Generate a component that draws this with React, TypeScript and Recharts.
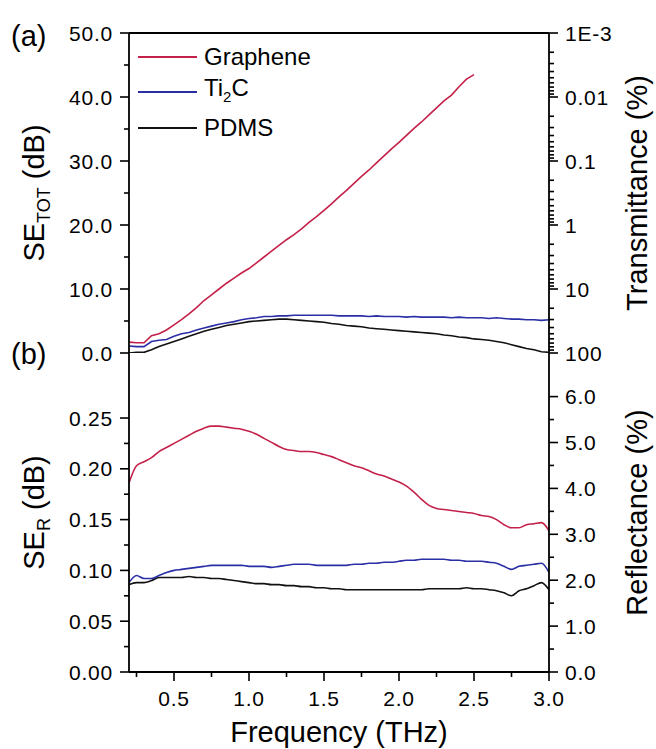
import { Line, LineChart, ReferenceLine, XAxis, YAxis } from "recharts";

const FONT = "'Liberation Sans', Arial, Helvetica, sans-serif";
const RED = "#c4214a";
const BLUE = "#2b2fa6";
const BLACK = "#111111";

// frequency grid (THz)
const freq = [
  0.2, 0.25, 0.3, 0.35, 0.4, 0.45, 0.5, 0.55, 0.6, 0.65, 0.7, 0.75, 0.8, 0.85, 0.9, 0.95, 1.0, 1.05, 1.1,
  1.15, 1.2, 1.25, 1.3, 1.35, 1.4, 1.45, 1.5, 1.55, 1.6, 1.65, 1.7, 1.75, 1.8, 1.85, 1.9, 1.95, 2.0, 2.05,
  2.1, 2.15, 2.2, 2.25, 2.3, 2.35, 2.4, 2.45, 2.5, 2.55, 2.6, 2.65, 2.7, 2.75, 2.8, 2.85, 2.9, 2.95, 3.0,
];

// (a) SE_TOT in dB — graphene stops at 2.5 THz
const grapheneTot = [
  1.7, 1.6, 1.6, 2.7, 3.0, 3.6, 4.4, 5.2, 6.1, 7.1, 8.2, 9.1, 10.0, 10.9, 11.7, 12.5, 13.2, 14.1, 15.0, 15.9,
  16.8, 17.7, 18.5, 19.4, 20.4, 21.3, 22.3, 23.3, 24.4, 25.4, 26.5, 27.6, 28.6, 29.7, 30.8, 31.9, 32.9, 34.0,
  35.1, 36.1, 37.2, 38.3, 39.4, 40.3, 41.6, 42.8, 43.5,
];
const ti2cTot = [
  1.1, 1.0, 1.0, 1.8, 2.0, 2.1, 2.6, 3.0, 3.2, 3.6, 3.9, 4.2, 4.5, 4.7, 4.9, 5.2, 5.4, 5.5, 5.7, 5.7, 5.8, 5.8,
  5.9, 5.9, 5.9, 5.9, 5.9, 5.9, 5.8, 5.8, 5.8, 5.8, 5.7, 5.8, 5.7, 5.7, 5.7, 5.6, 5.7, 5.6, 5.6, 5.6, 5.6, 5.5,
  5.6, 5.5, 5.5, 5.5, 5.4, 5.5, 5.4, 5.3, 5.3, 5.2, 5.2, 5.1, 5.2,
];
const pdmsTot = [
  0.0, 0.1, 0.1, 0.5, 1.0, 1.4, 1.8, 2.2, 2.6, 3.0, 3.4, 3.7, 4.0, 4.3, 4.5, 4.7, 4.9, 5.0, 5.1, 5.2, 5.3, 5.3,
  5.2, 5.1, 5.0, 4.9, 4.8, 4.6, 4.5, 4.3, 4.2, 4.1, 3.9, 3.8, 3.7, 3.6, 3.5, 3.4, 3.3, 3.2, 3.1, 3.0, 2.8, 2.7,
  2.5, 2.4, 2.2, 2.1, 2.0, 1.8, 1.6, 1.3, 1.0, 0.7, 0.5, 0.2, 0.1,
];

// (b) SE_R in dB
const grapheneR = [
  0.186, 0.203, 0.207, 0.211, 0.217, 0.221, 0.225, 0.229, 0.233, 0.237, 0.24, 0.242, 0.242, 0.241, 0.24,
  0.239, 0.237, 0.234, 0.23, 0.226, 0.222, 0.219, 0.218, 0.217, 0.217, 0.216, 0.214, 0.212, 0.209, 0.206,
  0.203, 0.201, 0.198, 0.195, 0.193, 0.19, 0.187, 0.183, 0.177, 0.17, 0.164, 0.161, 0.16, 0.159, 0.158,
  0.157, 0.156, 0.154, 0.153, 0.15, 0.145, 0.142, 0.142, 0.145, 0.146, 0.147, 0.139,
];
const ti2cR = [
  0.088, 0.095, 0.092, 0.092, 0.095, 0.098, 0.1, 0.101, 0.102, 0.103, 0.104, 0.105, 0.105, 0.105, 0.105,
  0.105, 0.104, 0.104, 0.104, 0.103, 0.104, 0.105, 0.106, 0.106, 0.106, 0.105, 0.105, 0.105, 0.105, 0.105,
  0.106, 0.106, 0.107, 0.107, 0.108, 0.108, 0.109, 0.11, 0.11, 0.111, 0.111, 0.111, 0.111, 0.11, 0.11,
  0.109, 0.109, 0.109, 0.108, 0.107, 0.104, 0.101, 0.104, 0.105, 0.106, 0.107, 0.098,
];
const pdmsR = [
  0.086, 0.088, 0.088, 0.09, 0.093, 0.093, 0.093, 0.093, 0.094, 0.093, 0.093, 0.092, 0.092, 0.091, 0.09,
  0.089, 0.088, 0.087, 0.087, 0.086, 0.086, 0.085, 0.085, 0.084, 0.084, 0.083, 0.083, 0.082, 0.082, 0.081,
  0.081, 0.081, 0.081, 0.081, 0.081, 0.081, 0.081, 0.081, 0.081, 0.081, 0.082, 0.082, 0.082, 0.082, 0.082,
  0.083, 0.082, 0.082, 0.081, 0.08, 0.078, 0.075, 0.08, 0.082, 0.085, 0.088, 0.081,
];

// ticks
const freqMajor = [0.5, 1.0, 1.5, 2.0, 2.5, 3.0];
const freqMinor = [0.25, 0.75, 1.25, 1.75, 2.25, 2.75];
const seTotMajor = [0, 10, 20, 30, 40, 50];
const seTotMinor = [5, 15, 25, 35, 45];
const transLabels = ["100", "10", "1", "0.1", "0.01", "1E-3"];
const transDecades = [10, 1, 0.1, 0.01, 0.001];
const transMultipliers = [2, 3, 4, 5, 6, 7, 8, 9];
const seRMajor = [0, 0.05, 0.1, 0.15, 0.2, 0.25];
const seRMinor = [0.025, 0.075, 0.125, 0.175, 0.225];
const reflMajor = [0, 1, 2, 3, 4, 5, 6];
const reflMinor = [0.5, 1.5, 2.5, 3.5, 4.5, 5.5];

// transmittance (%) -> SE (dB)
const toSE = (t: number) => 10 * Math.log10(100 / t);
const transMinorSE = transDecades.flatMap((d) => transMultipliers.map((m) => toSE(m * d)));

const topData = freq.map((f, i) => ({
  f,
  graphene: i < grapheneTot.length ? grapheneTot[i] : null,
  ti2c: ti2cTot[i],
  pdms: pdmsTot[i],
}));
const bottomData = freq.map((f, i) => ({ f, graphene: grapheneR[i], ti2c: ti2cR[i], pdms: pdmsR[i] }));

const near = (a: number, b: number) => Math.abs(a - b) < 1e-6;
const majorLabel = (majors: number[], labels: string[]) => (v: number) => {
  const idx = majors.findIndex((m) => near(m, v));
  return idx >= 0 ? labels[idx] : null;
};

const tickText = { fontFamily: FONT, fontSize: 21, letterSpacing: 0.8, fill: "#000" };

function makeYTick(side: "left" | "right", labelFor: (v: number) => string | null) {
  return function YTick(props: any) {
    const { x, y, payload } = props;
    const label = labelFor(payload.value);
    const dir = side === "left" ? -1 : 1;
    return (
      <g>
        <line x1={x} x2={x + dir * (label !== null ? 9 : 5)} y1={y} y2={y} stroke="#000" strokeWidth={1.6} />
        {label !== null && (
          <text x={x + dir * 16} y={y} dy="0.36em" textAnchor={side === "left" ? "end" : "start"} {...tickText}>
            {label}
          </text>
        )}
      </g>
    );
  };
}

function XTick(props: any) {
  const { x, y, payload } = props;
  const label = majorLabel(freqMajor, freqMajor.map((v) => v.toFixed(1)))(payload.value);
  return (
    <g>
      <line x1={x} x2={x} y1={y} y2={y + (label !== null ? 9 : 5)} stroke="#000" strokeWidth={1.6} />
      {label !== null && (
        <text x={x} y={y + 26} dy="0.36em" textAnchor="middle" {...tickText}>
          {label}
        </text>
      )}
    </g>
  );
}

function VTitle({ x, cy, main, sub, tail }: { x: number; cy: number; main: string; sub?: string; tail: string }) {
  return (
    <text
      x={x}
      y={cy}
      transform={`rotate(-90, ${x}, ${cy})`}
      textAnchor="middle"
      fontFamily={FONT}
      fontSize={29}
      fill="#000"
    >
      {main}
      {sub && (
        <tspan fontSize={18} dy={6}>
          {sub}
        </tspan>
      )}
      <tspan dy={sub ? -6 : 0}>{tail}</tspan>
    </text>
  );
}

const axisLine = { stroke: "#000", strokeWidth: 1.8 };
const W = 656;
const H = 749;

const legendItems = [
  { color: RED, name: "Graphene" },
  { color: BLUE, name: "Ti2C" },
  { color: BLACK, name: "PDMS" },
];

export default function App() {
  return (
    <div style={{ position: "absolute", left: 0, top: 0, width: W, height: H, background: "#fff" }}>
      {/* (a) total shielding / transmittance */}
      <div style={{ position: "absolute", left: 0, top: 0 }}>
        <LineChart width={W} height={H} data={topData} margin={{ top: 33, right: 0, bottom: 396, left: 0 }}>
          <XAxis
            dataKey="f"
            type="number"
            domain={[0.2, 3.0]}
            allowDataOverflow
            height={0}
            tick={false}
            tickLine={false}
            axisLine={axisLine}
          />
          <YAxis
            yAxisId="l"
            type="number"
            domain={[0, 50]}
            allowDataOverflow
            width={129}
            ticks={[...seTotMajor, ...seTotMinor]}
            interval={0}
            tickSize={0}
            tickMargin={0}
            tickLine={false}
            axisLine={axisLine}
            tick={makeYTick("left", majorLabel(seTotMajor, seTotMajor.map((v) => v.toFixed(1))))}
            label={(p: any) => (
              <VTitle x={44} cy={p.viewBox.y + p.viewBox.height / 2} main="SE" sub="TOT" tail=" (dB)" />
            )}
          />
          <YAxis
            yAxisId="r"
            orientation="right"
            type="number"
            domain={[0, 50]}
            allowDataOverflow
            width={107}
            ticks={[...seTotMajor, ...transMinorSE]}
            interval={0}
            tickSize={0}
            tickMargin={0}
            tickLine={false}
            axisLine={axisLine}
            tick={makeYTick("right", majorLabel(seTotMajor, transLabels))}
            label={(p: any) => (
              <VTitle x={647} cy={p.viewBox.y + p.viewBox.height / 2} main="Transmittance (%)" tail="" />
            )}
          />
          <ReferenceLine yAxisId="l" y={50} stroke="#000" strokeWidth={1.8} />
          <Line yAxisId="l" type="linear" dataKey="pdms" stroke={BLACK} strokeWidth={1.6} dot={false} isAnimationActive={false} />
          <Line yAxisId="l" type="linear" dataKey="ti2c" stroke={BLUE} strokeWidth={1.6} dot={false} isAnimationActive={false} />
          <Line yAxisId="l" type="linear" dataKey="graphene" stroke={RED} strokeWidth={1.6} dot={false} isAnimationActive={false} />
        </LineChart>
      </div>

      {/* (b) reflection */}
      <div style={{ position: "absolute", left: 0, top: 0 }}>
        <LineChart width={W} height={H} data={bottomData} margin={{ top: 353, right: 0, bottom: 0, left: 0 }}>
          <XAxis
            dataKey="f"
            type="number"
            domain={[0.2, 3.0]}
            allowDataOverflow
            height={77}
            ticks={[...freqMajor, ...freqMinor]}
            interval={0}
            tickSize={0}
            tickMargin={0}
            tickLine={false}
            axisLine={axisLine}
            tick={XTick}
            label={(p: any) => (
              <text
                x={p.viewBox.x + p.viewBox.width / 2}
                y={742}
                textAnchor="middle"
                fontFamily={FONT}
                fontSize={29}
                fill="#000"
              >
                Frequency (THz)
              </text>
            )}
          />
          <YAxis
            yAxisId="l"
            type="number"
            domain={[0, 0.314]}
            allowDataOverflow
            width={129}
            ticks={[...seRMajor, ...seRMinor]}
            interval={0}
            tickSize={0}
            tickMargin={0}
            tickLine={false}
            axisLine={axisLine}
            tick={makeYTick("left", majorLabel(seRMajor, seRMajor.map((v) => v.toFixed(2))))}
            label={(p: any) => (
              <VTitle x={44} cy={p.viewBox.y + p.viewBox.height / 2} main="SE" sub="R" tail=" (dB)" />
            )}
          />
          <YAxis
            yAxisId="r"
            orientation="right"
            type="number"
            domain={[0, 6.95]}
            allowDataOverflow
            width={107}
            ticks={[...reflMajor, ...reflMinor]}
            interval={0}
            tickSize={0}
            tickMargin={0}
            tickLine={false}
            axisLine={axisLine}
            tick={makeYTick("right", majorLabel(reflMajor, reflMajor.map((v) => v.toFixed(1))))}
            label={(p: any) => (
              <VTitle x={647} cy={p.viewBox.y + p.viewBox.height / 2} main="Reflectance (%)" tail="" />
            )}
          />
          <Line yAxisId="l" type="monotone" dataKey="pdms" stroke={BLACK} strokeWidth={1.6} dot={false} isAnimationActive={false} />
          <Line yAxisId="l" type="monotone" dataKey="ti2c" stroke={BLUE} strokeWidth={1.6} dot={false} isAnimationActive={false} />
          <Line yAxisId="l" type="monotone" dataKey="graphene" stroke={RED} strokeWidth={1.6} dot={false} isAnimationActive={false} />
        </LineChart>
      </div>

      {/* panel letters */}
      <svg width={W} height={H} style={{ position: "absolute", left: 0, top: 0, pointerEvents: "none" }}>
        <text x={11} y={46} fontFamily={FONT} fontSize={29} fill="#000">
          (a)
        </text>
        <text x={11} y={364} fontFamily={FONT} fontSize={29} fill="#000">
          (b)
        </text>
      </svg>

      {/* legend */}
      <div style={{ position: "absolute", left: 138, top: 39, fontFamily: FONT, fontSize: 24, color: "#000" }}>
        {legendItems.map((item) => (
          <div key={item.name} style={{ display: "flex", alignItems: "center", height: 35.5 }}>
            <svg width={59} height={4} style={{ display: "block" }}>
              <line x1={0} x2={59} y1={2} y2={2} stroke={item.color} strokeWidth={2} />
            </svg>
            <span style={{ marginLeft: 7, lineHeight: "24px" }}>
              {item.name === "Ti2C" ? (
                <>
                  Ti<span style={{ fontSize: 15, verticalAlign: -6 }}>2</span>C
                </>
              ) : (
                item.name
              )}
            </span>
          </div>
        ))}
      </div>
    </div>
  );
}
